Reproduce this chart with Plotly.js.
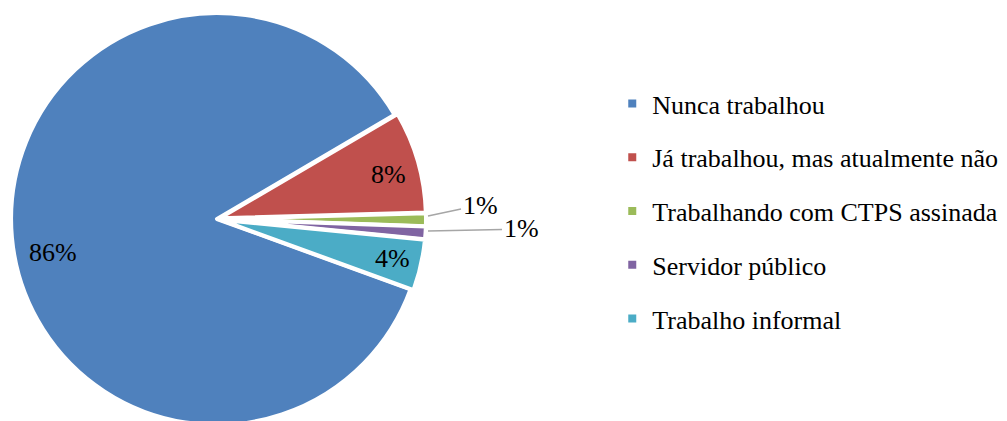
<!DOCTYPE html>
<html>
<head>
<meta charset="utf-8">
<script src="https://cdn.plot.ly/plotly-3.0.1.min.js"></script>
<style>
html, body { margin: 0; padding: 0; overflow: hidden; background: #fff; }
#chart { width: 1007px; height: 440px; }
</style>
</head>
<body>
<div id="chart"></div>
<script>
const categories = [
  "Nunca trabalhou",
  "Já trabalhou, mas atualmente não",
  "Trabalhando com CTPS assinada",
  "Servidor público",
  "Trabalho informal"
];
const shares = [86, 8, 1, 1, 4];
const colors = ["#4F81BD", "#C0504D", "#9BBB59", "#8064A2", "#4BACC6"];

const FONT = "Liberation Serif, Times New Roman, serif";
const W = 1007, H = 440;
const MT = 10, PH = 418;           // plot area top margin and height (px)
const total = shares.reduce((a, b) => a + b, 0);
const pctText = shares.map(v => Math.round(v / total * 100) + "%");

// pixel -> paper helpers
const px = x => x / W;
const py = y => (MT + PH - y) / PH;

const pie = {
  type: "pie",
  labels: categories,
  values: shares,
  sort: false,
  direction: "clockwise",
  rotation: 110,
  textinfo: "none",
  pull: [0, 0.015, 0.015, 0.015, 0.015],
  marker: { colors: colors, line: { color: "#fff", width: 4 } },
  domain: { x: [px(8), px(426)], y: [0, 1] },
  showlegend: false,
  hoverinfo: "label+percent"
};

const legendTraces = categories.map((c, i) => ({
  type: "scatter",
  mode: "markers",
  x: [null],
  y: [null],
  name: c,
  legendgroup: "g" + i,
  marker: { symbol: "square", size: 8, color: colors[i] },
  hoverinfo: "skip"
}));

const labelFont = { family: FONT, size: 26, color: "#000" };
const annotations = [
  { text: pctText[0], x: px(53), y: py(252), showarrow: false },
  { text: pctText[1], x: px(388), y: py(174), showarrow: false },
  { text: pctText[4], x: px(392), y: py(258), showarrow: false },
  { text: pctText[2], x: px(428), y: py(216), showarrow: true, ax: 52, ay: -11 },
  { text: pctText[3], x: px(428), y: py(231), showarrow: true, ax: 93, ay: -2 }
].map(a => Object.assign({
  xref: "paper", yref: "paper", xanchor: "center", yanchor: "middle",
  font: labelFont, arrowhead: 0, arrowwidth: 1.5, arrowcolor: "#A6A6A6", standoff: 0
}, a));

const layout = {
  width: W,
  height: H,
  margin: { l: 0, r: 0, t: MT, b: H - MT - PH },
  paper_bgcolor: "#fff",
  plot_bgcolor: "#fff",
  font: { family: FONT, size: 26, color: "#000" },
  xaxis: { visible: false },
  yaxis: { visible: false },
  showlegend: true,
  annotations: annotations,
  legend: {
    x: 0.608,
    xanchor: "left",
    y: py(80),
    yanchor: "top",
    font: { family: FONT, size: 26, color: "#000" },
    tracegroupgap: 17,
    bgcolor: "rgba(0,0,0,0)"
  }
};

Plotly.newPlot("chart", [pie].concat(legendTraces), layout, { displayModeBar: false, staticPlot: true });
</script>
</body>
</html>
